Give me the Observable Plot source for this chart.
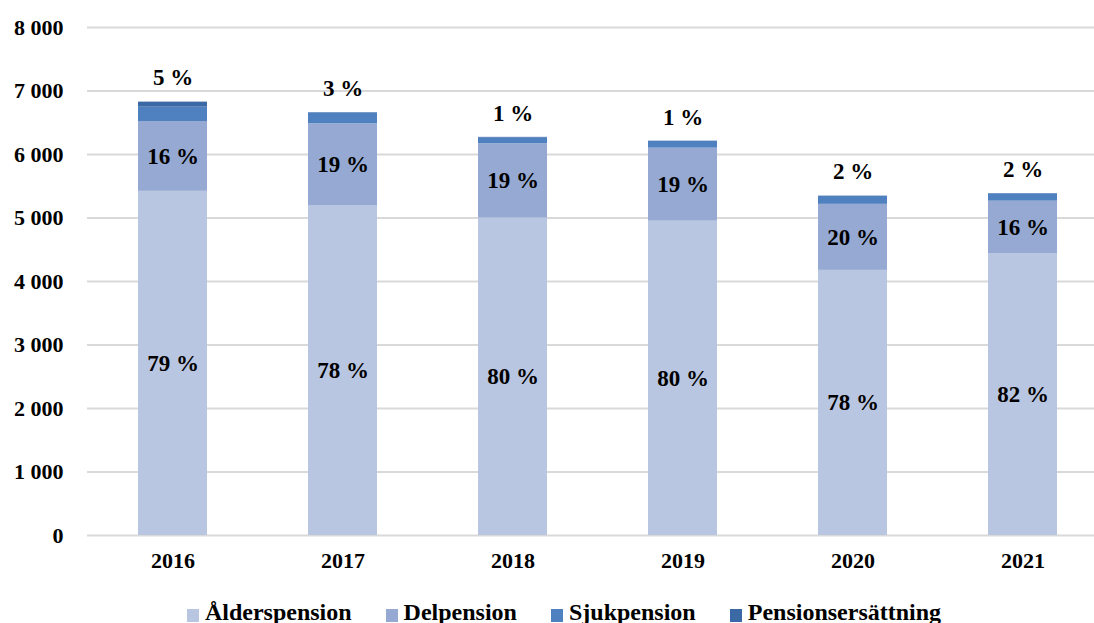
<!DOCTYPE html>
<html>
<head>
<meta charset="utf-8">
<script src="https://cdn.jsdelivr.net/npm/d3@7"></script>
<script src="https://cdn.jsdelivr.net/npm/@observablehq/plot@0.6"></script>
<style>
  html, body { margin: 0; padding: 0; background: #fff; }
  body { width: 1094px; height: 623px; overflow: hidden; font-family: "Liberation Serif", "Times New Roman", serif; }
  #chart svg { display: block; }
  #legend { display: flex; justify-content: center; gap: 34px; font-weight: bold; font-size: 24px; line-height: 26px; color: #000; margin-top: 16px; padding-left: 34px; }
  #legend .item { display: flex; align-items: center; gap: 6px; white-space: nowrap; }
  #legend .sw { width: 12px; height: 13px; display: inline-block; margin-top: 6px; }
</style>
</head>
<body>
<div id="chart"></div>
<div id="legend"></div>
<script>
const years = ["2016", "2017", "2018", "2019", "2020", "2021"];
const seriesNames = ["Ålderspension", "Delpension", "Sjukpension", "Pensionsersättning"];
const colors = ["#b9c6e1", "#95a9d2", "#4f80bf", "#3b69a6"];

const alderspension = [5420, 5190, 5000, 4950, 4175, 4435];
const delpension = [1100, 1295, 1170, 1150, 1040, 830];
const sjukpension = [225, 170, 95, 105, 125, 115];
const pensionsersattning = [80, 5, 5, 5, 5, 5];

const alderLabels = ["79 %", "78 %", "80 %", "80 %", "78 %", "82 %"];
const delLabels = ["16 %", "19 %", "19 %", "19 %", "20 %", "16 %"];
const topLabels = ["5 %", "3 %", "1 %", "1 %", "2 %", "2 %"];

const yTicks = [0, 1000, 2000, 3000, 4000, 5000, 6000, 7000, 8000];

const seriesValues = [alderspension, delpension, sjukpension, pensionsersattning];
const seriesLabels = [alderLabels, delLabels, years.map(() => ""), years.map(() => "")];

const tidy = [];
seriesNames.forEach((s, si) => {
  years.forEach((y, yi) => {
    tidy.push({year: y, series: s, value: seriesValues[si][yi], label: seriesLabels[si][yi]});
  });
});
const totals = years.map((y, i) => ({year: y, total: d3.sum(seriesValues, a => a[i]), label: topLabels[i]}));

const fmt = d => d3.format(",")(d).replace(/,/g, " ");
const font = "Liberation Serif, Times New Roman, serif";

const plot = Plot.plot({
  width: 1094,
  height: 583,
  marginLeft: 87,
  marginRight: 0,
  marginTop: 27,
  marginBottom: 48,
  style: {fontFamily: font, fontWeight: "bold", fontSize: "22px", color: "#000", background: "#fff"},
  x: {domain: years, range: [87, 1108], paddingInner: 0.595, paddingOuter: 0.2975, label: null},
  y: {domain: [0, 8000], label: null},
  color: {domain: seriesNames, range: colors},
  marks: [
    Plot.ruleY(yTicks, {stroke: "#d9d9d9", strokeWidth: 2}),
    Plot.barY(tidy, {x: "year", y: "value", fill: "series", order: seriesNames}),
    Plot.text(tidy.filter(d => d.label), Plot.stackY({x: "year", y: "value", z: "series", order: seriesNames, text: "label", fontSize: 23, fill: "#000"})),
    Plot.text(totals, {x: "year", y: "total", text: "label", dy: -24, fontSize: 23, fill: "#000"}),
    Plot.axisY(yTicks, {tickSize: 0, tickPadding: 24, tickFormat: fmt, fontSize: 22, fill: "#000"}),
    Plot.axisX({tickSize: 0, tickPadding: 17, fontSize: 22, fill: "#000"})
  ]
});
document.getElementById("chart").appendChild(plot);

const legend = document.getElementById("legend");
seriesNames.forEach((s, i) => {
  const item = document.createElement("div");
  item.className = "item";
  const sw = document.createElement("span");
  sw.className = "sw";
  sw.style.background = colors[i];
  const t = document.createElement("span");
  t.textContent = s;
  item.appendChild(sw);
  item.appendChild(t);
  legend.appendChild(item);
});
</script>
</body>
</html>
